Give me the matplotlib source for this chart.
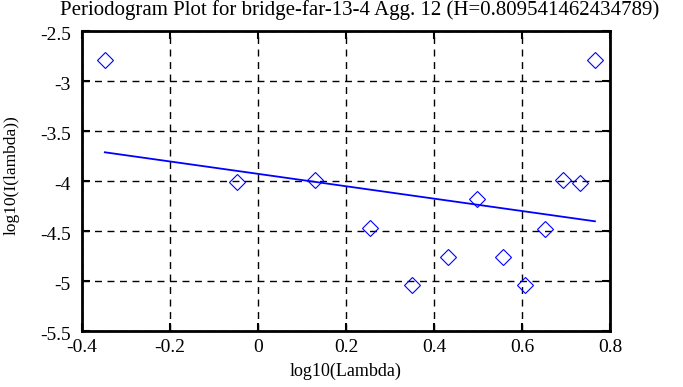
import numpy as np
import matplotlib.pyplot as plt
import matplotlib.transforms as mtransforms

plt.rcParams['font.family'] = ['Liberation Serif', 'DejaVu Serif']

# periodogram points (log10 lambda, log10 I(lambda))
log_lambda = [-0.348, -0.048, 0.129, 0.254, 0.351, 0.431, 0.498,
              0.556, 0.607, 0.653, 0.694, 0.732, 0.766]
log_I = [-2.793, -4.016, -3.993, -4.476, -5.04, -4.76, -4.18,
         -4.76, -5.046, -4.48, -3.996, -4.02, -2.793]

# fitted line end points
fit_x = [-0.348, 0.766]
fit_y = [-3.716, -4.406]

xticks = [-0.4, -0.2, 0, 0.2, 0.4, 0.6, 0.8]
yticks = [-5.5, -5, -4.5, -4, -3.5, -3, -2.5]

fig = plt.figure(figsize=(6.83, 3.87), dpi=100)
ax = fig.add_axes([0.12, 0.1455, 0.773, 0.7752])

ax.plot(log_lambda, log_I, linestyle='none', marker='D', markersize=8,
        markerfacecolor='none', markeredgecolor='blue', markeredgewidth=0.8)
ax.plot(fit_x, fit_y, color='blue', linewidth=1.3)

ax.set_xlim(-0.4, 0.8)
ax.set_ylim(-5.5, -2.5)
ax.set_xticks(xticks)
ax.set_yticks(yticks)
ax.set_xticklabels(['-0.4', '-0.2', '0', '0.2', '0.4', '0.6', '0.8'])
ax.set_yticklabels(['-5.5', '-5', '-4.5', '-4', '-3.5', '-3', '-2.5'])
ax.tick_params(direction='in', length=6, width=1.5, labelsize=14,
               top=True, right=True)
ax.tick_params(axis='y', pad=8)
ax.tick_params(axis='x', pad=6)
# gnuplot puts the y labels a little below the tick
shift = mtransforms.ScaledTranslation(0, -3 / 100, fig.dpi_scale_trans)
for lbl in ax.get_yticklabels():
    lbl.set_transform(lbl.get_transform() + shift)
ax.grid(True, color='black', linestyle=(0, (5, 4)), linewidth=1)
for s in ax.spines.values():
    s.set_linewidth(2)

ax.set_xlabel('log10(Lambda)', fontsize=13, labelpad=5)
ax.set_ylabel('log10(I(lambda))', fontsize=12.5, labelpad=15)
ax.yaxis.label.set_y(0.52)
fig.text(360 / 683, 1 - 10 / 387, 'Periodogram Plot for bridge-far-13-4 Agg. 12 (H=0.809541462434789)',
         ha='center', va='center', fontsize=15)

plt.savefig('out.png', dpi=100)
